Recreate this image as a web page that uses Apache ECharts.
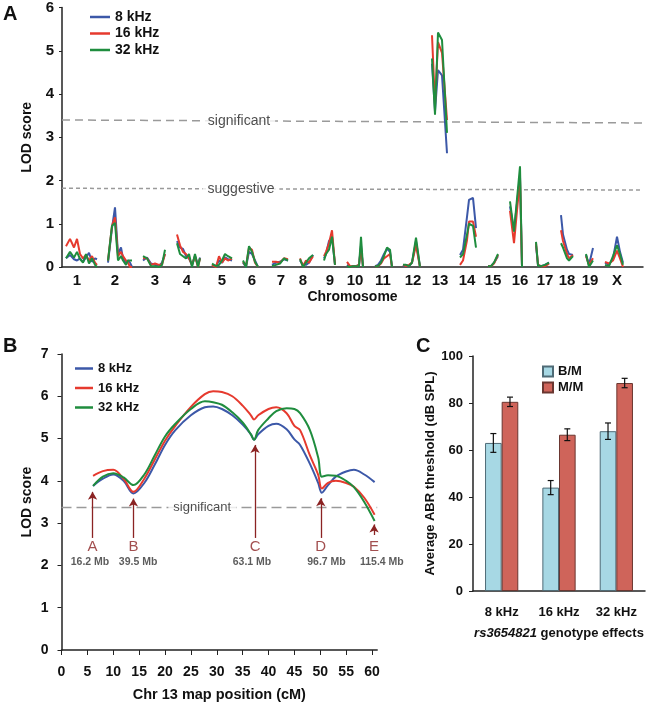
<!DOCTYPE html>
<html style="height: 100%">
<head>
    <meta charset="utf-8">
    <script src="https://cdn.jsdelivr.net/npm/echarts@6/dist/echarts.min.js"></script>
</head>
<body style="height: 100%; margin: 0; background: #fff">
<div id="container" style="width: 650px; height: 707px"></div>

<script type="text/javascript">
    // ---- panel A: genome-wide scan ----
    var chromLabels = ['1', '2', '3', '4', '5', '6', '7', '8', '9', '10', '11', '12', '13', '14', '15', '16', '17', '18', '19', 'X'];
    var chromCenters = [15, 53, 93, 125, 160, 190, 219, 241, 268, 293, 321, 351, 378, 405, 431, 458, 483, 505, 528, 555];
    var markerPos = [
        [4, 8, 12, 15, 18, 21, 24, 27, 30, 33, 35],
        [46, 50, 53, 56, 59, 61, 64, 66, 68, 70],
        [81, 85, 89, 93, 97, 100, 103],
        [115, 118, 121, 124, 127, 130, 133, 136, 138],
        [150, 154, 157, 160, 163, 166, 170],
        [181, 184, 187, 190, 193, 196],
        [210, 214, 218, 222, 226],
        [238, 241, 244, 247, 251],
        [262, 264, 267, 270, 273],
        [285, 288, 291, 294, 297, 299, 301],
        [313, 316, 319, 322, 325, 328, 330],
        [341, 344, 347, 350, 354, 358],
        [370, 373, 376, 380, 385],
        [398, 401, 405, 407, 411, 414],
        [426, 429, 432, 436],
        [448, 452, 458, 460],
        [474, 476, 479, 483, 487],
        [499, 501, 505, 507, 511],
        [524, 527, 531],
        [543, 547, 551, 555, 558, 561]
    ];
    var lodA8 = [
        [0.2, 0.28, 0.18, 0.15, 0.2, 0.12, 0.22, 0.33, 0.12, 0.2, 0.18],
        [0.1, 0.9, 1.38, 0.3, 0.45, 0.2, 0.1, 0.15, 0.1, 0.0],
        [0.15, 0.22, 0.08, 0.05, 0.02, 0.1, 0.3],
        [0.6, 0.45, 0.42, 0.25, 0.2, 0.05, 0.25, 0.05, 0.22],
        [0.05, 0.02, 0.15, 0.1, 0.22, 0.18, 0.15],
        [0.1, 0.0, 0.35, 0.3, 0.15, 0.0],
        [0.05, 0.1, 0.12, 0.18, 0.15],
        [0.15, 0.05, 0.05, 0.1, 0.28],
        [0.2, 0.3, 0.6, 0.7, 0.05],
        [0.05, 0.0, 0.02, 0.02, 0.05, 0.5, 0.0],
        [0.02, 0.05, 0.15, 0.3, 0.42, 0.35, 0.0],
        [0.02, 0.05, 0.02, 0.1, 0.6, 0.0],
        [4.7, 3.6, 4.55, 4.43, 2.63],
        [0.28, 0.4, 1.16, 1.55, 1.6, 0.9],
        [0.02, 0.02, 0.1, 0.25],
        [1.4, 0.85, 2.1, 0.0],
        [0.5, 0.05, 0.02, 0.05, 0.1],
        [1.2, 0.75, 0.4, 0.3, 0.28],
        [0.28, 0.05, 0.44],
        [0.1, 0.05, 0.2, 0.7, 0.35, 0.1]
    ];
    var lodA16 = [
        [0.48, 0.65, 0.45, 0.65, 0.3, 0.2, 0.28, 0.15, 0.25, 0.1, 0.05],
        [0.15, 0.95, 1.15, 0.25, 0.35, 0.25, 0.15, 0.1, 0.0, 0.0],
        [0.2, 0.2, 0.05, 0.08, 0.05, 0.05, 0.3],
        [0.75, 0.5, 0.35, 0.3, 0.2, 0.05, 0.25, 0.0, 0.2],
        [0.05, 0.0, 0.25, 0.1, 0.2, 0.15, 0.2],
        [0.12, 0.02, 0.45, 0.4, 0.1, 0.0],
        [0.12, 0.12, 0.1, 0.2, 0.18],
        [0.2, 0.02, 0.15, 0.1, 0.25],
        [0.25, 0.35, 0.55, 0.85, 0.05],
        [0.12, 0.02, 0.02, 0.02, 0.05, 0.45, 0.0],
        [0.02, 0.02, 0.08, 0.2, 0.25, 0.3, 0.0],
        [0.05, 0.02, 0.05, 0.1, 0.5, 0.0],
        [5.36, 3.75, 5.2, 4.95, 3.4],
        [0.05, 0.15, 0.62, 1.05, 1.05, 0.7],
        [0.02, 0.02, 0.08, 0.28],
        [1.3, 0.55, 2.05, 0.0],
        [0.55, 0.05, 0.02, 0.02, 0.08],
        [0.85, 0.6, 0.3, 0.2, 0.28],
        [0.25, 0.05, 0.2],
        [0.12, 0.08, 0.15, 0.38, 0.2, 0.0]
    ];
    var lodA32 = [
        [0.2, 0.35, 0.22, 0.35, 0.18, 0.1, 0.3, 0.08, 0.2, 0.05, 0.0],
        [0.15, 0.95, 1.02, 0.15, 0.25, 0.15, 0.05, 0.15, 0.12, 0.15],
        [0.25, 0.2, 0.02, 0.02, 0.0, 0.05, 0.4],
        [0.55, 0.3, 0.25, 0.2, 0.3, 0.0, 0.3, 0.0, 0.2],
        [0.08, 0.02, 0.05, 0.15, 0.3, 0.25, 0.2],
        [0.15, 0.0, 0.48, 0.35, 0.12, 0.0],
        [0.02, 0.05, 0.08, 0.2, 0.15],
        [0.18, 0.0, 0.1, 0.2, 0.28],
        [0.15, 0.3, 0.4, 0.7, 0.05],
        [0.02, 0.0, 0.02, 0.02, 0.02, 0.7, 0.0],
        [0.02, 0.02, 0.1, 0.25, 0.45, 0.4, 0.0],
        [0.05, 0.05, 0.02, 0.1, 0.68, 0.0],
        [4.82, 3.52, 5.42, 5.25, 3.1],
        [0.22, 0.3, 0.75, 1.0, 0.95, 0.45],
        [0.02, 0.02, 0.1, 0.3],
        [1.52, 0.82, 2.33, 0.0],
        [0.58, 0.03, 0.02, 0.05, 0.1],
        [0.55, 0.45, 0.2, 0.15, 0.25],
        [0.3, 0.0, 0.15],
        [0.05, 0.02, 0.25, 0.5, 0.3, 0.05]
    ];
    var genomeMax = 581;
    var sigA = [3.4, 3.33];
    var sugA = [1.82, 1.78];

    // ---- panel B: chr 13 ----
    var cmPos = [6.1, 8, 10, 12, 13.9, 16, 18, 20, 22, 25, 27.7, 29.3, 31, 33, 35, 36.6, 37.2, 38, 40, 41.5,
        43.5, 45, 46.1, 48, 49.6, 50.3, 51.5, 53, 55, 56.5, 58.5, 60.5];
    var lodB8 = [3.88, 4.05, 4.15, 4.0, 3.7, 3.95, 4.38, 4.85, 5.2, 5.55, 5.74, 5.76, 5.7, 5.55, 5.33, 5.1, 4.97, 5.1, 5.3, 5.35,
        5.22, 4.98, 4.85, 4.4, 3.95, 3.72, 3.9, 4.1, 4.22, 4.26, 4.15, 3.97];
    var lodB16 = [4.12, 4.23, 4.26, 4.05, 3.74, 4.05, 4.5, 4.95, 5.3, 5.75, 6.05, 6.12, 6.1, 6.0, 5.78, 5.55, 5.45, 5.55, 5.7, 5.74,
        5.6, 5.3, 5.2, 4.6, 4.14, 3.82, 3.95, 4.0, 3.95, 3.86, 3.6, 3.2];
    var lodB32 = [3.88, 4.1, 4.18, 4.08, 3.9, 4.15, 4.6, 5.05, 5.35, 5.7, 5.88, 5.86, 5.8, 5.62, 5.38, 5.1, 4.97, 5.2, 5.48, 5.65,
        5.72, 5.7, 5.6, 5.2, 4.55, 4.1, 4.13, 4.12, 4.0, 3.85, 3.5, 3.05];
    var sigB = 3.37;
    var arrowCm = [6, 13.9, 37.4, 50.1, 60.4];
    var arrowBase = [2.65, 2.65, 2.65, 2.65, 2.72];
    var arrowTip = [3.74, 3.58, 4.85, 3.59, 2.97];
    var arrowLetters = ['A', 'B', 'C', 'D', 'E'];
    var mbLabels = ['16.2 Mb', '39.5 Mb', '63.1 Mb', '96.7 Mb', '115.4 Mb'];
    var mbCm = [5.5, 14.8, 36.8, 51.2, 61.9];

    // ---- panel C: genotype effects ----
    var freqs = ['8 kHz', '16 kHz', '32 kHz'];
    var abrBM = [63, 44, 68];
    var abrBMerr = [4, 3, 3.5];
    var abrMM = [80.5, 66.5, 88.5];
    var abrMMerr = [2, 2.5, 2];

    var FONT = 'Liberation Sans, Arial, sans-serif';
    var blue = '#3c58a8', red = '#e63a2e', green = '#1f8d3e';
    var dark = '#8b2323';
    var catGap = 0.42;

    function genomeData(vals) {
        var out = [];
        markerPos.forEach(function (pos, c) {
            pos.forEach(function (p, i) { out.push([p, vals[c][i]]); });
            out.push([pos[pos.length - 1] + 1, '-']);
        });
        return out;
    }
    function zip(xs, ys) {
        return xs.map(function (x, i) { return [x, ys[i]]; });
    }
    function lineA(name, color, vals) {
        return {
            name: name, type: 'line', xAxisIndex: 0, yAxisIndex: 0, data: genomeData(vals),
            symbol: 'none', lineStyle: {color: color, width: 2}, itemStyle: {color: color},
            connectNulls: false, animation: false
        };
    }
    function lineB(name, color, vals) {
        return {
            name: name, type: 'line', xAxisIndex: 1, yAxisIndex: 1, data: zip(cmPos, vals),
            smooth: 0.35, symbol: 'none', lineStyle: {color: color, width: 2}, itemStyle: {color: color},
            animation: false
        };
    }
    function dashed(xi, yi, data, dash) {
        return {
            type: 'line', xAxisIndex: xi, yAxisIndex: yi, data: data, symbol: 'none', silent: true,
            lineStyle: {color: '#9a9a9a', width: 1.5, type: dash}, animation: false, z: 1
        };
    }
    function textPoints(xi, yi, pts, style) {
        return {
            type: 'scatter', xAxisIndex: xi, yAxisIndex: yi, data: pts, symbolSize: 1, clip: false,
            itemStyle: {color: 'rgba(0,0,0,0)'}, silent: true, animation: false, z: 5,
            label: Object.assign({show: true, position: 'inside', formatter: '{b}', fontFamily: FONT}, style)
        };
    }

    var arrowLines = arrowCm.map(function (x, i) {
        return [{coord: [x, arrowBase[i]]}, {coord: [x, arrowTip[i]]}];
    });
    var letterPts = arrowCm.map(function (x, i) { return {name: arrowLetters[i], value: [x, 2.43]}; });
    var mbPts = mbCm.map(function (x, i) { return {name: mbLabels[i], value: [x, 2.09]}; });

    var axisLineStyle = {lineStyle: {color: '#222', width: 1.5}};
    var tickLabel = {color: '#111', fontWeight: 'bold', fontFamily: FONT};

    var dom = document.getElementById("container");
    var myChart = echarts.init(dom, null, {renderer: 'canvas'});

    var option = {
        backgroundColor: '#fff',
        textStyle: {fontFamily: FONT},
        title: [
            {text: 'A', left: 3, top: 4, padding: 0, textStyle: {fontSize: 20, fontWeight: 'bold', color: '#111', fontFamily: FONT}},
            {text: 'B', left: 3, top: 336, padding: 0, textStyle: {fontSize: 20, fontWeight: 'bold', color: '#111', fontFamily: FONT}},
            {text: 'C', left: 416, top: 336, padding: 0, textStyle: {fontSize: 20, fontWeight: 'bold', color: '#111', fontFamily: FONT}}
        ],
        legend: [
            {
                data: ['8 kHz', '16 kHz', '32 kHz'], orient: 'vertical', left: 90, top: 10, padding: 0,
                icon: 'rect', itemWidth: 20, itemHeight: 2.5, itemGap: 2.5, selectedMode: false,
                textStyle: {fontSize: 14, lineHeight: 14, fontWeight: 'bold', color: '#111', fontFamily: FONT}
            },
            {
                data: ['8 kHz', '16 kHz', '32 kHz'], orient: 'vertical', left: 75, top: 362, padding: 0,
                icon: 'rect', itemWidth: 18, itemHeight: 2.5, itemGap: 6.5, selectedMode: false,
                textStyle: {fontSize: 13, lineHeight: 13, fontWeight: 'bold', color: '#111', fontFamily: FONT}
            },
            {
                data: ['B/M', 'M/M'], orient: 'vertical', left: 542, top: 365, padding: 0,
                icon: 'rect', itemWidth: 10, itemHeight: 10, itemGap: 3, selectedMode: false,
                textStyle: {fontSize: 13, fontWeight: 'bold', color: '#111', fontFamily: FONT}
            }
        ],
        grid: [
            {left: 62, top: 7, width: 581, height: 260},
            {left: 61.5, top: 354, width: 315.7, height: 296},
            {left: 473, top: 356, width: 172, height: 235}
        ],
        xAxis: [
            {
                gridIndex: 0, type: 'value', min: 0, max: genomeMax,
                name: 'Chromosome', nameLocation: 'middle', nameGap: 23,
                nameTextStyle: {fontSize: 14, fontWeight: 'bold', color: '#111'},
                axisLine: axisLineStyle, axisTick: {show: false}, splitLine: {show: false},
                axisLabel: Object.assign({
                    fontSize: 15, margin: 6, customValues: chromCenters,
                    formatter: function (v) { return chromLabels[chromCenters.indexOf(v)]; }
                }, tickLabel)
            },
            {
                gridIndex: 1, type: 'value', min: 0, max: 61,
                name: 'Chr 13 map position (cM)', nameLocation: 'middle', nameGap: 37,
                nameTextStyle: {fontSize: 14.5, fontWeight: 'bold', color: '#111'},
                axisLine: axisLineStyle, splitLine: {show: false},
                axisTick: {length: 5, customValues: [0, 5, 10, 15, 20, 25, 30, 35, 40, 45, 50, 55, 60], lineStyle: {color: '#222'}},
                axisLabel: Object.assign({fontSize: 14, margin: 15, customValues: [0, 5, 10, 15, 20, 25, 30, 35, 40, 45, 50, 55, 60]}, tickLabel)
            },
            {
                gridIndex: 2, type: 'category', data: freqs,
                name: '{i|rs3654821} genotype effects', nameLocation: 'middle', nameGap: 36,
                nameTextStyle: {
                    fontSize: 13, fontWeight: 'bold', color: '#111',
                    rich: {i: {fontStyle: 'italic', fontSize: 13, fontWeight: 'bold', color: '#111', fontFamily: FONT}}
                },
                axisLine: axisLineStyle,
                axisTick: {length: 5, interval: 0, lineStyle: {color: '#222'}},
                axisLabel: Object.assign({fontSize: 13, margin: 15}, tickLabel)
            }
        ],
        yAxis: [
            {
                gridIndex: 0, type: 'value', min: 0, max: 6, interval: 1,
                name: 'LOD score', nameLocation: 'middle', nameGap: 28,
                nameTextStyle: {fontSize: 14, fontWeight: 'bold', color: '#111'},
                axisLine: {show: true, lineStyle: {color: '#222', width: 1.5}},
                axisTick: {show: true, length: 3, lineStyle: {color: '#222'}}, splitLine: {show: false},
                axisLabel: Object.assign({fontSize: 15, margin: 8}, tickLabel)
            },
            {
                gridIndex: 1, type: 'value', min: 0, max: 7, interval: 1,
                name: 'LOD score', nameLocation: 'middle', nameGap: 27,
                nameTextStyle: {fontSize: 14, fontWeight: 'bold', color: '#111'},
                axisLine: {show: true, lineStyle: {color: '#222', width: 1.5}},
                axisTick: {show: true, length: 4, lineStyle: {color: '#222'}}, splitLine: {show: false},
                axisLabel: Object.assign({fontSize: 14, margin: 13}, tickLabel)
            },
            {
                gridIndex: 2, type: 'value', min: 0, max: 100, interval: 20,
                name: 'Average ABR threshold (dB SPL)', nameLocation: 'middle', nameGap: 34,
                nameTextStyle: {fontSize: 13, fontWeight: 'bold', color: '#111'},
                axisLine: {show: true, lineStyle: {color: '#222', width: 1.5}},
                axisTick: {show: true, length: 4, lineStyle: {color: '#222'}}, splitLine: {show: false},
                axisLabel: Object.assign({fontSize: 13, margin: 10}, tickLabel)
            }
        ],
        series: [
            // panel A thresholds
            dashed(0, 0, [[0, sigA[0]], [genomeMax, sigA[1]]], [8, 5]),
            dashed(0, 0, [[0, sugA[0]], [genomeMax, sugA[1]]], [4, 3]),
            textPoints(0, 0, [{name: 'significant', value: [177, 3.38]}, {name: 'suggestive', value: [179, 1.81]}],
                {fontSize: 14, color: '#222', backgroundColor: '#fff', padding: [1, 5]}),
            lineA('8 kHz', blue, lodA8),
            lineA('16 kHz', red, lodA16),
            lineA('32 kHz', green, lodA32),

            // panel B
            dashed(1, 1, [[0, sigB], [61, sigB]], [10, 5]),
            textPoints(1, 1, [{name: 'significant', value: [27.2, sigB]}],
                {fontSize: 13, color: '#222', backgroundColor: '#fff', padding: [1, 5]}),
            lineB('8 kHz', blue, lodB8),
            lineB('16 kHz', red, lodB16),
            lineB('32 kHz', green, lodB32),
            Object.assign(textPoints(1, 1, letterPts, {fontSize: 15, color: dark}), {
                markLine: {
                    silent: true, symbol: ['none', 'arrow'], symbolSize: [7, 8], animation: false,
                    label: {show: false}, lineStyle: {color: dark, width: 1.3, type: 'solid'},
                    data: arrowLines
                }
            }),
            textPoints(1, 1, mbPts, {fontSize: 10.5, fontWeight: 'bold', color: '#333'}),

            // panel C
            {
                name: 'B/M', type: 'bar', xAxisIndex: 2, yAxisIndex: 2, data: abrBM,
                barGap: 0, barCategoryGap: (catGap * 100) + '%', animation: false,
                itemStyle: {color: '#a7d8e4', borderColor: '#4f6b76', borderWidth: 1}
            },
            {
                name: 'M/M', type: 'bar', xAxisIndex: 2, yAxisIndex: 2, data: abrMM,
                barGap: 0, barCategoryGap: (catGap * 100) + '%', animation: false,
                itemStyle: {color: '#cf645a', borderColor: '#6a3630', borderWidth: 1}
            },
            {
                type: 'custom', xAxisIndex: 2, yAxisIndex: 2, animation: false, z: 10, silent: true,
                data: abrBM.map(function (v, i) { return [i, v, abrBMerr[i], -1]; })
                    .concat(abrMM.map(function (v, i) { return [i, v, abrMMerr[i], 1]; })),
                renderItem: function (params, api) {
                    var idx = api.value(0), v = api.value(1), e = api.value(2), side = api.value(3);
                    var band = api.size([1, 0])[0];
                    var barW = band * (1 - catGap) / 2;
                    var c = api.coord([idx, v]);
                    var x = c[0] + side * barW / 2;
                    var top = api.coord([idx, v + e])[1];
                    var bot = api.coord([idx, v - e])[1];
                    var cap = 3;
                    var st = {stroke: '#111', lineWidth: 1.2};
                    return {
                        type: 'group', children: [
                            {type: 'line', shape: {x1: x, y1: top, x2: x, y2: bot}, style: st},
                            {type: 'line', shape: {x1: x - cap, y1: top, x2: x + cap, y2: top}, style: st},
                            {type: 'line', shape: {x1: x - cap, y1: bot, x2: x + cap, y2: bot}, style: st}
                        ]
                    };
                }
            }
        ]
    };

    myChart.setOption(option, true);
</script>
</body>
</html>
